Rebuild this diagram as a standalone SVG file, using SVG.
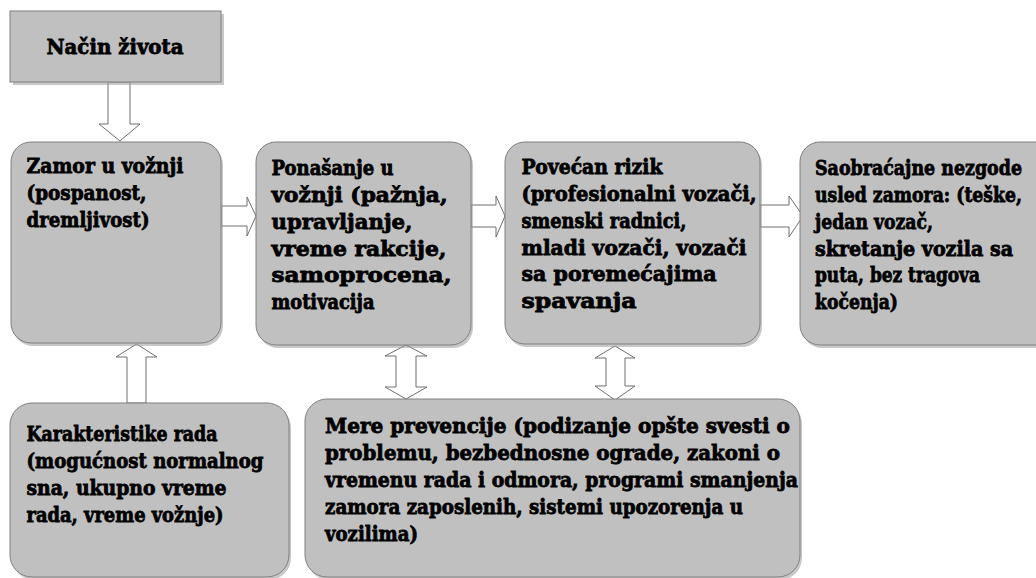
<svg xmlns="http://www.w3.org/2000/svg" width="1036" height="578" viewBox="0 0 1036 578">
<style>
.box{fill:#c0c0c0;stroke:#7f7f7f;stroke-width:1}
.sh{fill:#9a9a9a;opacity:0.55}
.arr{fill:#ffffff;stroke:#6e6e6e;stroke-width:1;stroke-linejoin:miter}
text{font-family:"DejaVu Serif","Liberation Serif",serif;font-weight:bold;font-size:21px;fill:#000;stroke:#000;stroke-width:0.8px}
</style>
<rect width="1036" height="578" fill="#ffffff"/>
<g id="connectors">
<polygon class="arr" points="108,82 130,82 130,124 140,124 120,141 99,124 108,124"/>
<polygon class="arr" points="221,206 247,206 247,197 256,216 247,236 247,226 221,226"/>
<polygon class="arr" points="471,205 496,205 496,196 505,216 496,237 496,227 471,227"/>
<polygon class="arr" points="760,205 789,205 789,196 803,216 789,237 789,227 760,227"/>
<polygon class="arr" points="127,403 146,403 146,357 157,357 136.5,344 116,357 127,357"/>
<polygon class="arr" points="406,345 427,356 416,356 416,387 427,387 406,399 385,387 396,387 396,356 385,356"/>
<polygon class="arr" points="615,346 635,358 625,358 625,386 635,386 615,400 595,386 606,386 606,358 595,358"/>
</g>
<g id="nacin-zivota">
<rect class="sh" x="13" y="14" width="211" height="71"/>
<rect class="box" x="10" y="11" width="211" height="71"/>
<text x="115" y="54" text-anchor="middle" font-size="22" textLength="137" lengthAdjust="spacingAndGlyphs">Način života</text>
</g>
<g id="zamor">
<rect class="sh" x="13" y="145" width="210" height="201" rx="20"/>
<rect class="box" x="11" y="142" width="210" height="201" rx="20"/>
<text x="26.5" y="173" textLength="157" lengthAdjust="spacingAndGlyphs">Zamor u vožnji</text>
<text x="26.5" y="200" textLength="120" lengthAdjust="spacingAndGlyphs">(pospanost,</text>
<text x="26.5" y="227" textLength="123" lengthAdjust="spacingAndGlyphs">dremljivost)</text>
</g>
<g id="ponasanje">
<rect class="sh" x="258" y="145" width="215" height="203" rx="20"/>
<rect class="box" x="256" y="142" width="215" height="203" rx="20"/>
<text x="271.5" y="175" textLength="122" lengthAdjust="spacingAndGlyphs">Ponašanje u</text>
<text x="271.5" y="202" textLength="176" lengthAdjust="spacingAndGlyphs">vožnji (pažnja,</text>
<text x="271.5" y="229" textLength="141" lengthAdjust="spacingAndGlyphs">upravljanje,</text>
<text x="271.5" y="256" textLength="175" lengthAdjust="spacingAndGlyphs">vreme rakcije,</text>
<text x="271.5" y="282" textLength="180" lengthAdjust="spacingAndGlyphs">samoprocena,</text>
<text x="271.5" y="309" textLength="103" lengthAdjust="spacingAndGlyphs">motivacija</text>
</g>
<g id="povecan-rizik">
<rect class="sh" x="507" y="145" width="255" height="202" rx="20"/>
<rect class="box" x="505" y="142" width="255" height="202" rx="20"/>
<text x="521.5" y="174" textLength="141" lengthAdjust="spacingAndGlyphs">Povećan rizik</text>
<text x="521.5" y="201" textLength="235" lengthAdjust="spacingAndGlyphs">(profesionalni vozači,</text>
<text x="521.5" y="228" textLength="165" lengthAdjust="spacingAndGlyphs">smenski radnici,</text>
<text x="521.5" y="255" textLength="225" lengthAdjust="spacingAndGlyphs">mladi vozači, vozači</text>
<text x="521.5" y="281" textLength="195" lengthAdjust="spacingAndGlyphs">sa poremećajima</text>
<text x="521.5" y="308" textLength="115" lengthAdjust="spacingAndGlyphs">spavanja</text>
</g>
<g id="nezgode">
<rect class="sh" x="802" y="145" width="260" height="203" rx="20"/>
<rect class="box" x="800" y="142" width="260" height="203" rx="20"/>
<text x="815" y="175" font-size="18.5" textLength="207" lengthAdjust="spacingAndGlyphs">Saobraćajne nezgode</text>
<text x="815" y="202" font-size="18.5" textLength="207" lengthAdjust="spacingAndGlyphs">usled zamora: (teške,</text>
<text x="815" y="229" textLength="118" lengthAdjust="spacingAndGlyphs">jedan vozač,</text>
<text x="815" y="256" textLength="198" lengthAdjust="spacingAndGlyphs">skretanje vozila sa</text>
<text x="815" y="282" textLength="165" lengthAdjust="spacingAndGlyphs">puta, bez tragova</text>
<text x="815" y="309" textLength="83" lengthAdjust="spacingAndGlyphs">kočenja)</text>
</g>
<g id="karakteristike">
<rect class="sh" x="12" y="406" width="279" height="174" rx="22"/>
<rect class="box" x="10" y="403" width="279" height="174" rx="22"/>
<text x="26.5" y="441" textLength="191" lengthAdjust="spacingAndGlyphs">Karakteristike rada</text>
<text x="26.5" y="468" textLength="237" lengthAdjust="spacingAndGlyphs">(mogućnost normalnog</text>
<text x="26.5" y="495" textLength="200" lengthAdjust="spacingAndGlyphs">sna, ukupno vreme</text>
<text x="26.5" y="522" textLength="197" lengthAdjust="spacingAndGlyphs">rada, vreme vožnje)</text>
</g>
<g id="mere-prevencije">
<rect class="sh" x="307" y="402" width="495" height="178" rx="22"/>
<rect class="box" x="305" y="399" width="495" height="178" rx="22"/>
<text x="325" y="433" textLength="465" lengthAdjust="spacingAndGlyphs">Mere prevencije (podizanje opšte svesti o</text>
<text x="325" y="460" textLength="455" lengthAdjust="spacingAndGlyphs">problemu, bezbednosne  ograde, zakoni o</text>
<text x="325" y="487" textLength="473" lengthAdjust="spacingAndGlyphs">vremenu rada i odmora, programi smanjenja</text>
<text x="325" y="514" textLength="418" lengthAdjust="spacingAndGlyphs">zamora zaposlenih, sistemi upozorenja u</text>
<text x="325" y="541" textLength="93" lengthAdjust="spacingAndGlyphs">vozilima)</text>
</g>
</svg>
